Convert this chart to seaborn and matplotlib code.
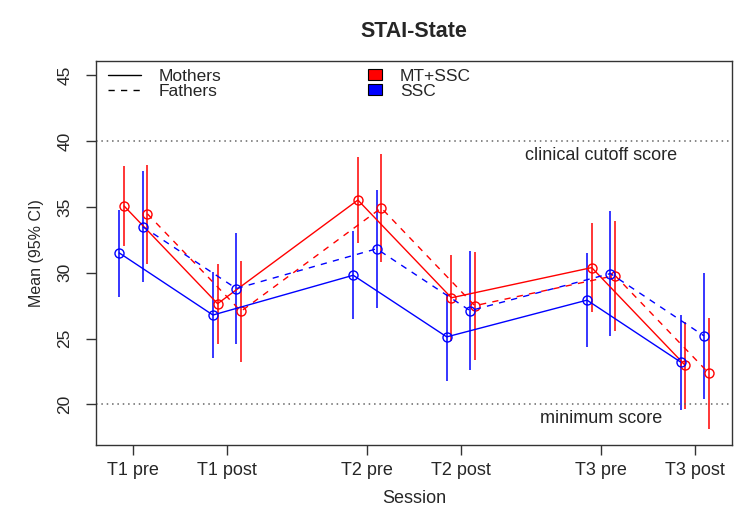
import pandas as pd
import numpy as np
import matplotlib.pyplot as plt
import seaborn as sns
from matplotlib.lines import Line2D
from matplotlib.patches import Patch

# sessions and where they sit on the x axis (pairs grouped by time point)
sessions = ["T1 pre", "T1 post", "T2 pre", "T2 post", "T3 pre", "T3 post"]
session_pos = [1, 2, 3.5, 4.5, 6, 7]

# means and 95% CI bounds
mothers_mt_mean = [35.07, 27.65, 35.52, 28.10, 30.39, 22.97]
mothers_mt_lo = [32.00, 24.58, 32.25, 24.78, 27.04, 19.62]
mothers_mt_hi = [38.14, 30.69, 38.80, 31.32, 33.76, 26.29]

mothers_ssc_mean = [31.50, 26.79, 29.81, 25.13, 27.92, 23.22]
mothers_ssc_lo = [28.17, 23.52, 26.47, 21.76, 24.33, 19.57]
mothers_ssc_hi = [34.77, 30.06, 33.15, 28.35, 31.52, 26.79]

fathers_mt_mean = [34.47, 27.07, 34.92, 27.50, 29.79, 22.39]
fathers_mt_lo = [30.70, 23.25, 30.82, 23.40, 25.60, 18.17]
fathers_mt_hi = [38.20, 30.87, 39.00, 31.57, 33.96, 26.54]

fathers_ssc_mean = [33.50, 28.80, 31.82, 27.12, 29.94, 25.21]
fathers_ssc_lo = [29.30, 24.60, 27.34, 22.64, 25.16, 20.43]
fathers_ssc_hi = [37.70, 33.00, 36.30, 31.62, 34.72, 30.00]

clinical_cutoff = 40
minimum_score = 20

#build long table
series = [
    ("Mothers", "MT+SSC", -0.10, mothers_mt_mean, mothers_mt_lo, mothers_mt_hi),
    ("Mothers", "SSC", -0.15, mothers_ssc_mean, mothers_ssc_lo, mothers_ssc_hi),
    ("Fathers", "MT+SSC", 0.15, fathers_mt_mean, fathers_mt_lo, fathers_mt_hi),
    ("Fathers", "SSC", 0.10, fathers_ssc_mean, fathers_ssc_lo, fathers_ssc_hi),
]
rows = []
for parent, group, off, m, lo, hi in series:
    for i in range(len(sessions)):
        rows.append({"parent": parent, "group": group, "x": session_pos[i] + off,
                     "mean": m[i], "lo": lo[i], "hi": hi[i]})
df = pd.DataFrame(rows)

sns.set_style("ticks")
plt.rcParams['font.family'] = ['Liberation Sans', 'DejaVu Sans']

palette = {"MT+SSC": "#ff0000", "SSC": "#0000ff"}

fig = plt.figure(figsize=(7.49, 5.17), dpi=100)
ax = fig.add_axes([96/749, 1-445/517, (732-96)/749, (445-61)/517])

#error bars
for g, sub in df.groupby("group"):
    ax.vlines(sub["x"], sub["lo"], sub["hi"], colors=palette[g], lw=1.1)

sns.lineplot(data=df, x="x", y="mean", hue="group", style="parent", palette=palette,
             markers={"Mothers": "o", "Fathers": "o"},
             dashes={"Mothers": "", "Fathers": (4.5, 4.5)},
             estimator=None, sort=False, lw=1.0, ms=6.5, legend=False, ax=ax)
for ln in ax.get_lines():
    ln.set_markerfacecolor("none")
    ln.set_markeredgecolor(ln.get_color())
    ln.set_markeredgewidth(1.0)

#reference lines
ax.axhline(clinical_cutoff, color="#666666", lw=1.1, ls=(0, (1, 2.5)))
ax.axhline(minimum_score, color="#666666", lw=1.1, ls=(0, (1, 2.5)))
ax.text(6, 38.9, "clinical cutoff score", ha="center", va="center", fontsize=13)
ax.text(6, 18.95, "minimum score", ha="center", va="center", fontsize=13)

ax.set_xlim(0.6, 7.4)
ax.set_ylim(16.92, 46.08)
ax.set_xticks(session_pos)
ax.set_xticklabels(sessions, fontsize=13)
ax.set_yticks([20, 25, 30, 35, 40, 45])
ax.set_yticklabels(["20", "25", "30", "35", "40", "45"], fontsize=12.5, rotation=90, va="center")
ax.tick_params(direction="out", length=7, width=1, color="#333333")
ax.tick_params(axis="x", pad=5)
ax.tick_params(axis="y", pad=10)
for s in ax.spines.values():
    s.set_color("#333333")
    s.set_linewidth(1.0)

ax.set_xlabel("Session", fontsize=13, labelpad=8)
ax.set_ylabel("Mean (95% CI)", fontsize=11.5, labelpad=10)
ax.set_title("STAI-State", fontsize=15.5, fontweight="bold", pad=17)

#legends
h1 = [Line2D([0], [0], color="black", lw=1.0),
      Line2D([0], [0], color="black", lw=1.0, dashes=(4.5, 4.5))]
leg1 = ax.legend(h1, ["Mothers", "Fathers"], loc="upper left", bbox_to_anchor=(0.0, 1.012),
                 frameon=False, fontsize=12.5, handlelength=1.9, handletextpad=1.0,
                 labelspacing=0.0, borderaxespad=0.3)
ax.add_artist(leg1)
h2 = [Patch(facecolor="#ff0000", edgecolor="black", lw=0.8),
      Patch(facecolor="#0000ff", edgecolor="black", lw=0.8)]
ax.legend(h2, ["MT+SSC", "SSC"], loc="upper left", bbox_to_anchor=(0.408, 1.012),
          frameon=False, fontsize=12.5, handlelength=0.8, handleheight=0.6,
          handletextpad=1.05, labelspacing=0.0, borderaxespad=0.3)

plt.savefig("out.png", dpi=100)
